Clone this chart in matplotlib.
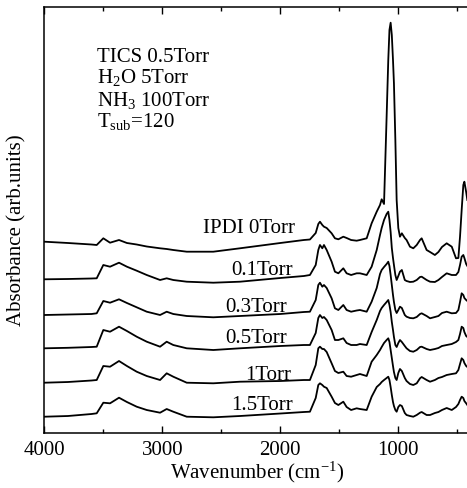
import matplotlib
matplotlib.use("Agg")
import matplotlib.pyplot as plt
from matplotlib.ticker import MultipleLocator, NullLocator

plt.rcParams['font.family'] = ['Liberation Serif', 'DejaVu Serif']
plt.rcParams['mathtext.fontset'] = 'custom'
plt.rcParams['mathtext.rm'] = 'Liberation Serif'
plt.rcParams['mathtext.it'] = 'Liberation Serif:italic'

# Wavenumber grid (cm^-1)
wavenumber = [4000, 3800, 3600, 3556, 3500, 3443, 3367, 3300, 3217, 3132, 3019, 2963, 2907, 2793,
              2568, 2342, 2000, 1800, 1749, 1700, 1678, 1664, 1644, 1630, 1607, 1565, 1537, 1508,
              1466, 1438, 1400, 1353, 1325, 1268, 1226, 1183, 1155, 1141, 1121, 1099, 1085, 1075,
              1065, 1055, 1045, 1037, 1025, 1014, 1000, 986, 970, 945, 930, 901, 873, 844, 816,
              802, 760, 731, 690, 660, 630, 590, 547, 511, 491, 477, 463, 449, 440, 425, 415]

# Stacked absorbance (arb. units)
ipdi_0 = [191.3, 190, 188.5, 188, 194.7, 190.3, 193, 190, 188.5, 186.5, 184.7, 184, 183, 181.3,
          181.3, 184.7, 190, 193, 193.5, 200, 209, 211.3, 208, 206.3, 205, 199.7, 194.7, 193.7,
          196.3, 195, 193, 192.3, 193, 194.7, 209.7, 221.3, 228, 233.7, 229, 316.3, 373, 403,
          410.3, 398, 373, 349.7, 293, 233, 205, 196.3, 199.7, 195, 193, 186.3, 184.7, 188, 193,
          194.7, 183, 181, 178, 181, 186, 189.7, 186.3, 174.7, 175, 196.3, 223, 248, 251.3, 241, 233]
torr_0_1 = [153.7, 154, 154.5, 154.7, 168, 166.3, 170.3, 166.3, 162.3, 158, 153, 154.7, 153, 151.3,
            150.3, 151.3, 155, 157, 158, 168, 183, 188, 184.7, 188, 183, 171.3, 161.3, 159.7,
            164.7, 159.7, 158, 159.7, 159.7, 158, 166.3, 183, 198, 205, 213, 219, 221.3, 213,
            201, 185, 175, 168, 158, 153, 157, 161.3, 163, 153, 152, 151, 151.3, 153, 156,
            156.3, 153, 151.3, 151, 153, 156, 159.7, 158, 158, 161, 168, 176.3, 178, 175, 169, 167]
torr_0_3 = [118, 118.5, 119, 119.7, 132, 130.3, 133.7, 130, 125.7, 121.3, 118, 121.3, 119, 117,
            115.7, 117, 119, 121, 121.3, 133, 148, 150.3, 146.3, 148, 145, 134.7, 124.7, 123,
            128, 123, 121.3, 122.5, 123, 121.3, 131.3, 145, 159, 163, 166, 169, 171.3, 167,
            158, 148, 138, 131, 123, 120, 123, 126.3, 125, 118, 116.3, 115, 114.7, 116, 119,
            119.7, 117, 114.7, 116, 117, 120, 121.3, 119.7, 120, 123, 131, 139.7, 138, 135, 133, 132]
torr_0_5 = [84.7, 85.2, 86, 86.3, 103, 101.3, 106.3, 102, 96.3, 91.3, 86.3, 91.3, 88, 84.7,
            83, 84.7, 87, 88, 88, 100, 115, 118, 115, 116, 113, 103, 93, 93,
            94.7, 90, 88, 88, 89, 88, 101, 113, 122, 125, 128, 131, 133, 128,
            121, 111, 103, 96, 88, 86, 90, 93, 91, 87, 84.7, 82, 81.3, 83, 86,
            86.3, 84, 83, 84, 85, 87, 88, 89, 91, 93, 99, 106.3, 105, 101, 97, 96]
torr_1 = [50.3, 51, 52.5, 53, 67, 66.3, 72, 67, 61.3, 57, 53, 59.7, 56.3, 50.3,
          49.7, 51.3, 52, 53, 53, 68, 84.7, 86.3, 84, 84, 81, 69.7, 62, 60,
          61.3, 57, 56.3, 58, 59, 57, 71.3, 78, 83, 86, 90, 93, 94.7, 91,
          83, 75, 67, 61, 55, 53, 60, 64, 62, 55, 52, 49, 48, 49.7, 54.7,
          56, 53, 51.3, 53, 55, 56, 58, 59, 59.7, 63, 69, 74.7, 73, 70, 67, 66]
torr_1_5 = [16.3, 17, 19, 19.7, 30.3, 29.7, 35.3, 31, 26.3, 23, 20.3, 24, 21.3, 16.3,
            15.7, 17, 19.5, 21, 21.3, 35, 48, 49.7, 48, 46.3, 45, 36.3, 30, 28,
            31.3, 26, 23, 24.7, 24, 23, 36.3, 46, 49, 51, 53, 55, 56.3, 53,
            46, 38, 31, 27, 23, 21.3, 26, 28, 27, 20, 18, 17, 16.3, 18, 20.3,
            21, 18, 18, 20, 21, 23, 25, 23, 26, 29, 33, 36.3, 35, 32, 29.7, 28]

series = [ipdi_0, torr_0_1, torr_0_3, torr_0_5, torr_1, torr_1_5]
labels = ['IPDI 0Torr', '0.1Torr', '0.3Torr', '0.5Torr', '1Torr', '1.5Torr']
label_x = [1875, 1895, 1941, 1941, 1909, 1890]
label_y = [199.7, 158, 121.3, 89.7, 53, 23]

conditions = ['TICS 0.5Torr', 'H$_2$O 5Torr', 'NH$_3$ 100Torr', 'T$_{\\rm sub}$=120']

fig = plt.figure(figsize=(4.67, 4.88), dpi=100)
ax = fig.add_axes([0.0949, 0.1133, 0.9096, 0.873])

for ys in series:
    ax.plot(wavenumber, ys, color='black', lw=1.3)

for lab, lx, ly in zip(labels, label_x, label_y):
    ax.text(lx, ly, lab, ha='right', va='baseline', fontsize=15)

cond_y = [0.871, 0.820, 0.766, 0.718]
for t, cy in zip(conditions, cond_y):
    ax.text(0.124, cy, t, transform=ax.transAxes, ha='left', va='baseline', fontsize=15)

ax.set_xlim(4000, 400)
ax.set_ylim(0.3, 426.3)
ax.xaxis.set_major_locator(MultipleLocator(1000))
ax.xaxis.set_minor_locator(MultipleLocator(500))
ax.yaxis.set_major_locator(NullLocator())
ax.tick_params(axis='x', which='both', direction='in', top=True, width=1)
ax.tick_params(axis='x', which='major', length=5, pad=6, labelsize=15)
ax.tick_params(axis='x', which='minor', length=3)
for s in ax.spines.values():
    s.set_linewidth(1.1)

ax.set_xlabel('Wavenumber (cm$^{-1}$)', fontsize=15, labelpad=0)
ax.set_ylabel('Absorbance (arb.units)', fontsize=15)
ax.yaxis.set_label_coords(-0.041, 0.476)

fig.savefig('out.png', dpi=100)
